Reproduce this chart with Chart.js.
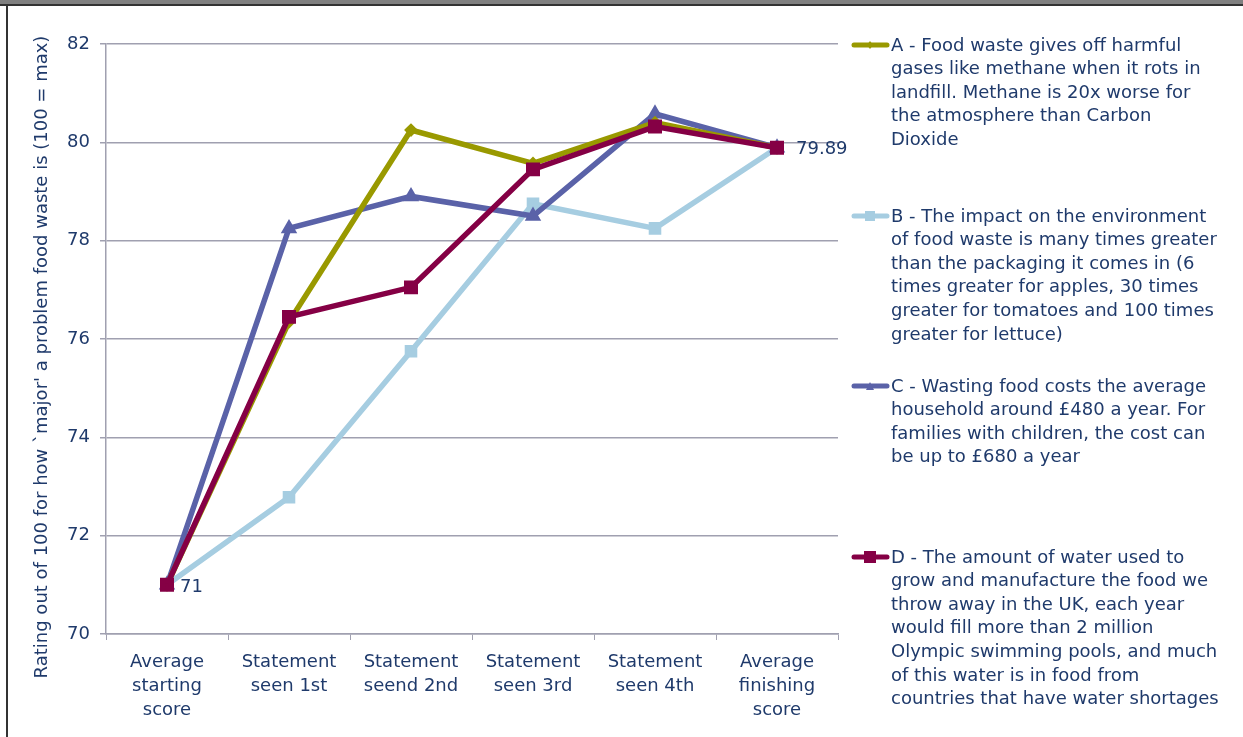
<!DOCTYPE html>
<html>
<head>
<meta charset="utf-8">
<script src="https://cdn.jsdelivr.net/npm/chart.js@4.4.0/dist/chart.umd.min.js"></script>
<style>
  body { margin: 0; background: #fff; }
  #wrap { position: relative; width: 1243px; height: 737px; overflow: hidden; }
  #topbar { position: absolute; left: 0; top: 0; width: 1243px; height: 4px; background: #808080; border-bottom: 2px solid #333; }
  #leftbar { position: absolute; left: 6px; top: 4px; width: 2px; height: 733px; background: #333; }
</style>
</head>
<body>
<div id="wrap">
  <canvas id="foodchart" width="1243" height="737"></canvas>
  <div id="topbar"></div>
  <div id="leftbar"></div>
</div>
<script>
var categories = [
  ["Average", "starting", "score"],
  ["Statement", "seen 1st"],
  ["Statement", "seend 2nd"],
  ["Statement", "seen 3rd"],
  ["Statement", "seen 4th"],
  ["Average", "finishing", "score"]
];
var seriesA = [71, 76.35, 80.25, 79.57, 80.4, 79.89];
var seriesB = [71, 72.78, 75.75, 78.75, 78.25, 79.89];
var seriesC = [71, 78.25, 78.9, 78.5, 80.58, 79.89];
var seriesD = [71, 76.45, 77.05, 79.45, 80.32, 79.89];

var legendA = ["A - Food waste gives off harmful", "gases like methane when it rots in", "landfill. Methane is 20x worse for", "the atmosphere than Carbon", "Dioxide"];
var legendB = ["B - The impact on the environment", "of food waste is many times greater", "than the packaging it comes in (6", "times greater for apples, 30 times", "greater for tomatoes and 100 times", "greater for lettuce)"];
var legendC = ["C - Wasting food costs the average", "household around £480 a year. For", "families with children, the cost can", "be up to £680 a year"];
var legendD = ["D - The amount of water used to", "grow and manufacture the food we", "throw away in the UK, each year", "would fill more than 2 million", "Olympic swimming pools, and much", "of this water is in food from", "countries that have water shortages"];

var yTitle = "Rating out of 100 for how `major' a problem food waste is (100 = max)";

var navy = '#1f3a6b';
var gridCol = '#a0a0b0';
var fontFam = '"DejaVu Sans", Verdana, sans-serif';

// legend blocks drawn at the right of the plot
var legendBlocks = [
  { lines: legendA, color: '#999900', y: 45, mark: 'diamond', size: 3 },
  { lines: legendB, color: '#a6cde1', y: 216, mark: 'square', size: 5 },
  { lines: legendC, color: '#5a62a8', y: 386, mark: 'triangle', size: 4 },
  { lines: legendD, color: '#850045', y: 557, mark: 'square', size: 6 }
];

const sideLegend = {
  id: 'sideLegend',
  afterDraw(chart) {
    const ctx = chart.ctx;
    ctx.save();
    ctx.font = '18px ' + fontFam;
    ctx.textBaseline = 'middle';
    ctx.textAlign = 'left';
    legendBlocks.forEach(function (b) {
      ctx.strokeStyle = b.color;
      ctx.fillStyle = b.color;
      ctx.lineWidth = 5;
      ctx.lineCap = 'round';
      ctx.beginPath();
      ctx.moveTo(854, b.y);
      ctx.lineTo(887, b.y);
      ctx.stroke();
      var cx = 870, s = b.size;
      ctx.beginPath();
      if (b.mark == 'square') {
        ctx.rect(cx - s, b.y - s, 2 * s, 2 * s);
      } else if (b.mark == 'diamond') {
        ctx.moveTo(cx, b.y - s - 1); ctx.lineTo(cx + s, b.y); ctx.lineTo(cx, b.y + s + 1); ctx.lineTo(cx - s, b.y);
      } else {
        ctx.moveTo(cx, b.y - s); ctx.lineTo(cx + s, b.y + s); ctx.lineTo(cx - s, b.y + s);
      }
      ctx.fill();
      ctx.fillStyle = navy;
      b.lines.forEach(function (t, i) {
        ctx.fillText(t, 891, b.y + 1 + i * 23.6);
      });
    });
    // y axis title
    ctx.translate(42, 357);
    ctx.rotate(-Math.PI / 2);
    ctx.textAlign = 'center';
    ctx.fillText(yTitle, 0, 0);
    ctx.restore();
  }
};

const endLabels = {
  id: 'endLabels',
  afterDatasetsDraw(chart) {
    const ctx = chart.ctx;
    const meta = chart.getDatasetMeta(3);
    const first = meta.data[0], last = meta.data[meta.data.length - 1];
    ctx.save();
    ctx.font = '18px ' + fontFam;
    ctx.fillStyle = navy;
    ctx.textBaseline = 'middle';
    ctx.textAlign = 'left';
    ctx.fillText(String(seriesD[0]), first.x + 13, first.y + 2);
    ctx.fillText(String(seriesD[seriesD.length - 1]), last.x + 19, last.y + 2);
    ctx.restore();
  }
};

var ctx = document.getElementById("foodchart").getContext("2d");
let myChart = new Chart(ctx, {
  type: 'line',
  data: {
    labels: categories,
    datasets: [
      { label: 'A', data: seriesA, borderColor: '#999900', backgroundColor: '#999900', borderWidth: 5.5, pointStyle: 'rectRot', pointRadius: 3, order: 1 },
      { label: 'B', data: seriesB, borderColor: '#a6cde1', backgroundColor: '#a6cde1', borderWidth: 5.5, pointStyle: 'rect', pointRadius: 5, order: 3 },
      { label: 'C', data: seriesC, borderColor: '#5a62a8', backgroundColor: '#5a62a8', borderWidth: 5.5, pointStyle: 'triangle', pointRadius: 4, order: 2 },
      { label: 'D', data: seriesD, borderColor: '#850045', backgroundColor: '#850045', borderWidth: 5.5, pointStyle: 'rect', pointRadius: 6, order: 0 }
    ]
  },
  options: {
    responsive: false,
    animation: false,
    layout: { padding: { top: 44, right: 405, left: 0, bottom: 0 } },
    plugins: { legend: { display: false }, tooltip: { enabled: false } },
    elements: { line: { tension: 0 }, point: { borderWidth: 0 } },
    scales: {
      x: {
        offset: true,
        grid: { offset: true, drawOnChartArea: false, drawTicks: true, tickLength: 6, color: gridCol, lineWidth: 1 },
        border: { color: gridCol, width: 1.5 },
        ticks: { color: navy, font: { family: fontFam, size: 18, lineHeight: 1.35 }, padding: 10, maxRotation: 0, autoSkip: false },
        afterFit: function (scale) { scale.height = 103; }
      },
      y: {
        min: 70, max: 82,
        ticks: { stepSize: 2, color: navy, font: { family: fontFam, size: 18 }, padding: 10 },
        grid: { color: gridCol, lineWidth: 1.5, tickLength: 6 },
        border: { color: gridCol, width: 1.5 },
        afterFit: function (scale) { scale.width = 106; }
      }
    }
  },
  plugins: [sideLegend, endLabels]
});
</script>
</body>
</html>
